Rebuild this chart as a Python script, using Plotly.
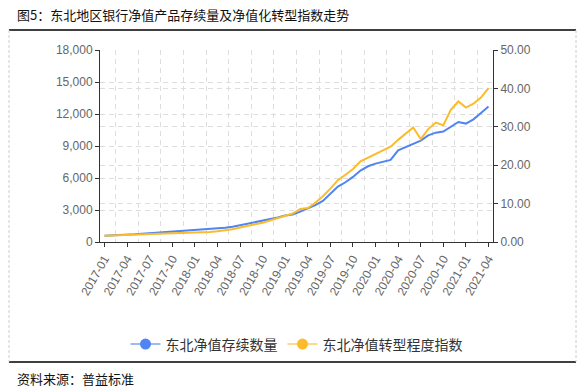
import plotly.graph_objects as go

months = [f"{y}-{m:02d}" for y in range(2017, 2022) for m in range(1, 13)][:52]

stock_count = [580, 600, 640, 680, 720, 780, 830, 880, 920, 970,
               1010, 1060, 1110, 1150, 1200, 1260, 1330, 1420, 1560, 1700,
               1860, 2000, 2150, 2300, 2480, 2580, 2850, 3150, 3450, 3850,
               4500, 5190, 5600, 6100, 6700, 7100, 7350, 7550, 7700, 8600,
               8900, 9200, 9500, 10000, 10250, 10350, 10800, 11250, 11100, 11500,
               12100, 12700]

transform_index = [1.6, 1.65, 1.75, 1.85, 1.9, 1.95, 2.0, 2.1, 2.2, 2.3,
                   2.35, 2.4, 2.35, 2.45, 2.6, 2.8, 3.05, 3.35, 3.75, 4.1,
                   4.6, 5.0, 5.6, 6.2, 6.8, 7.4, 8.6, 8.85, 10.2, 11.9,
                   13.9, 16.1, 17.5, 19.0, 21.0, 22.0, 22.9, 23.8, 24.8, 26.6,
                   28.2, 29.8, 26.8, 29.4, 31.1, 30.4, 34.4, 36.6, 35.0, 36.0,
                   37.6, 40.1]

tick_labels = months[::3]
series_names = ["东北净值存续数量", "东北净值转型程度指数"]
title_text = "图5：东北地区银行净值产品存续量及净值化转型指数走势"
source_text = "资料来源：普益标准"

BLUE = "#4f84f3"
YELLOW = "#fcbb2a"
idx = list(range(len(months)))

fig = go.Figure()
fig.add_trace(go.Scatter(x=idx, y=stock_count, mode="lines", line=dict(color=BLUE, width=2),
                         showlegend=False, yaxis="y"))
fig.add_trace(go.Scatter(x=idx, y=transform_index, mode="lines", line=dict(color=YELLOW, width=2),
                         showlegend=False, yaxis="y2"))
# legend entries
fig.add_trace(go.Scatter(x=[None], y=[None], mode="lines+markers", name=series_names[0],
                         line=dict(color="rgba(79,132,243,0.55)", width=2),
                         marker=dict(color=BLUE, size=11), yaxis="y"))
fig.add_trace(go.Scatter(x=[None], y=[None], mode="lines+markers", name=series_names[1],
                         line=dict(color="rgba(252,187,42,0.55)", width=2),
                         marker=dict(color=YELLOW, size=11), yaxis="y2"))

W, H = 587, 392
L, R, T, B = 100, 94, 50, 150
pw, ph = W - L - R, H - T - B

def px2x(px):
    return (px - L) / pw

def px2y(py):
    return 1 - (py - T) / ph

tickfont = dict(family="Liberation Sans, Arial, sans-serif", size=12, color="#666666")
grid_dash = "5px,4px"
grid_col = "#dedede"

fig.update_layout(
    width=W, height=H,
    margin=dict(l=L, r=R, t=T, b=B),
    paper_bgcolor="white", plot_bgcolor="white",
    font=dict(family="Noto Sans CJK SC, sans-serif"),
    xaxis=dict(
        range=[-0.6, 51.6], tickmode="array", tickvals=idx[::3], ticktext=tick_labels,
        tickangle=-60, tickfont=tickfont, ticks="outside", ticklen=4, tickcolor="#333333",
        showline=True, linecolor="#333333", linewidth=1, showgrid=False, zeroline=False,
        minor=dict(tickmode="array", tickvals=[1.5 + 3 * k for k in range(17)], showgrid=True,
                   gridcolor=grid_col, griddash=grid_dash, gridwidth=1, ticklen=0),
    ),
    yaxis=dict(
        range=[0, 18000], tickmode="linear", tick0=0, dtick=3000, tickformat=",",
        tickfont=tickfont, ticks="outside", ticklen=4, tickcolor="#333333",
        showline=True, linecolor="#333333", linewidth=1, zeroline=False,
        showgrid=True, gridcolor=grid_col, griddash=grid_dash, gridwidth=1,
    ),
    yaxis2=dict(
        range=[0, 50], tickmode="linear", tick0=0, dtick=10, tickformat=".2f",
        overlaying="y", side="right",
        tickfont=tickfont, ticks="outside", ticklen=4, tickcolor="#333333",
        showline=True, linecolor="#333333", linewidth=1, zeroline=False,
        showgrid=True, gridcolor=grid_col, griddash=grid_dash, gridwidth=1,
    ),
    legend=dict(orientation="h", x=0.5, xanchor="center", y=px2y(344.5), yanchor="middle",
                font=dict(family="Noto Sans CJK SC, sans-serif", size=14, color="#333333"),
                itemwidth=30, bgcolor="rgba(0,0,0,0)"),
)

x_left, x_right = px2x(9), px2x(576)
y_top, y_bot = px2y(30), px2y(362)
fig.add_shape(type="line", xref="paper", yref="paper", x0=x_left, x1=x_right, y0=y_top, y1=y_top,
              line=dict(color="black", width=1.5))
fig.add_shape(type="line", xref="paper", yref="paper", x0=x_left, x1=x_right, y0=y_bot, y1=y_bot,
              line=dict(color="black", width=1.5))
for xv in (x_left, x_right):
    fig.add_shape(type="line", xref="paper", yref="paper", x0=xv, x1=xv, y0=y_top, y1=y_bot,
                  line=dict(color="#cccccc", width=1, dash="3px,2px"))

fig.add_annotation(text=title_text, xref="paper", yref="paper", x=px2x(15), y=px2y(14),
                   xanchor="left", yanchor="middle", showarrow=False,
                   font=dict(family="Noto Sans CJK SC, sans-serif", size=13, color="#111111"))
fig.add_annotation(text=source_text, xref="paper", yref="paper", x=px2x(15), y=px2y(378),
                   xanchor="left", yanchor="middle", showarrow=False,
                   font=dict(family="Noto Sans CJK SC, sans-serif", size=13, color="#111111"))

fig.write_html("out.html", config={"displayModeBar": False},
               post_script="document.body.style.margin='0';document.body.style.padding='0';"
                           "document.documentElement.style.overflow='hidden';")
